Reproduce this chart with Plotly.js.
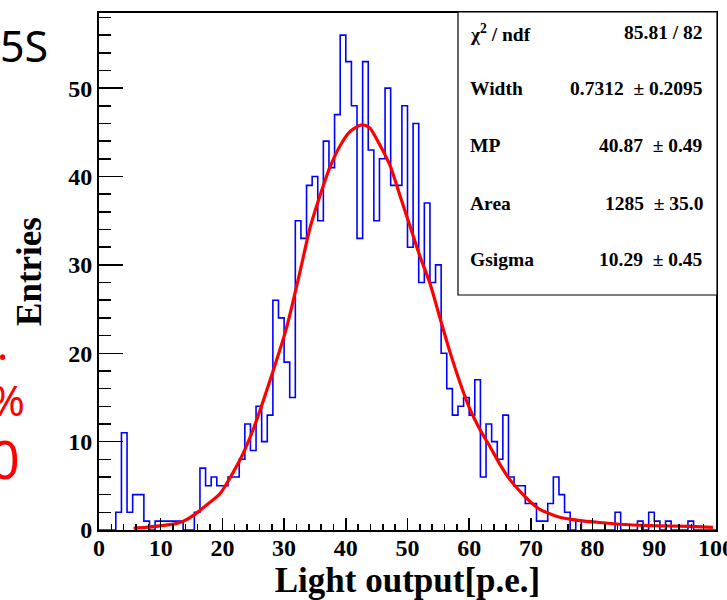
<!DOCTYPE html>
<html>
<head>
<meta charset="utf-8">
<script src="https://cdn.plot.ly/plotly-3.0.1.min.js"></script>
<style>
html,body{margin:0;padding:0;background:#ffffff;}
#chart{width:727px;height:600px;}
</style>
</head>
<body>
<div id="chart"></div>
<script>
// ---------------- data ----------------
const xMin = 0;
const xMax = 100;
// 110 bins between 0 and 100 p.e.
const binCounts = [
  0, 0, 0, 2, 11, 2, 4, 4, 1, 0,
  1, 1, 1, 1, 1, 0, 0, 2, 7, 5,
  6, 5, 5, 6, 6, 8, 12, 9, 14, 10,
  13, 26, 24, 19, 15, 35, 33, 39, 40, 35,
  44, 41, 47, 56, 53, 48, 33, 53, 43, 35,
  42, 50, 39, 39, 48, 32, 46, 28, 37, 28,
  30, 20, 16, 13, 14, 15, 13, 17, 6, 12,
  10, 8, 13, 6, 5, 5, 3, 3, 1, 1,
  3, 6, 4, 2, 0, 1, 0, 0, 0, 0,
  0, 0, 2, 0, 0, 0, 1, 0, 2, 1,
  0, 1, 0, 0, 0, 1, 0, 0, 0, 0
];
// fitted Landau(x)Gauss curve
const fitX = [5.6, 7.5, 10.2, 12.6, 13.7, 15.6, 17.2, 19.6, 22.9, 25.0,
              27.7, 30.4, 32.6, 34.2, 35.8, 37.4, 39.1, 40.7, 42.3, 43.1,
              43.9, 45.5, 47.2, 48.8, 50.4, 52.0, 53.6, 55.3, 56.9, 58.5,
              60.1, 61.8, 63.4, 65.0, 66.6, 68.2, 69.9, 71.5, 74.7, 78.0,
              81.2, 84.4, 89.3, 95.8, 99.5];
const fitY = [0.2, 0.3, 0.5, 0.75, 1.0, 1.8, 2.7, 4.1, 8.0, 11.4,
              16.9, 22.9, 29.3, 34.2, 37.8, 41.0, 43.5, 45.1, 45.8, 45.8,
              45.5, 43.6, 41.2, 37.8, 34.4, 31.0, 28.0, 23.9, 20.1, 16.7,
              13.7, 11.3, 9.4, 7.4, 5.7, 4.4, 3.2, 2.3, 1.45, 1.07,
              0.85, 0.65, 0.5, 0.4, 0.3];
const xTickVals = [0, 10, 20, 30, 40, 50, 60, 70, 80, 90, 100];
const yTickVals = [0, 10, 20, 30, 40, 50];
const statLabels = ["\u03c7<sup>2</sup> / ndf", "Width", "MP", "Area", "Gsigma"];
const statValues = ["85.81 / 82", "0.7312 \u00a0\u00b1 0.2095", "40.87 \u00a0\u00b1 0.49",
                    "1285 \u00a0\u00b1 35.0", "10.29 \u00a0\u00b1 0.45"];
const xTitle = "Light output[p.e.]";
const yTitle = "Entries";
const slideBlackText = ["5S"];
const slideRedText = [".", "%", "0"];

// ---------------- build traces ----------------
const nBins = binCounts.length;
const binW = (xMax - xMin) / nBins;
const stepX = [];
const stepY = [];
for (let i = 0; i < nBins; i++) { stepX.push(xMin + i * binW); stepY.push(binCounts[i]); }
stepX.push(xMax); stepY.push(binCounts[nBins - 1]);

const histTrace = {
  type: 'scatter', mode: 'lines', x: stepX, y: stepY,
  line: {shape: 'hv', color: '#0000ff', width: 1.6},
  hoverinfo: 'skip'
};
const fitTrace = {
  type: 'scatter', mode: 'lines', x: fitX, y: fitY,
  line: {shape: 'spline', smoothing: 0.6, color: '#ff0000', width: 3.2},
  hoverinfo: 'skip'
};

// ---------------- layout ----------------
const serif = 'Liberation Serif, Times New Roman, serif';
const sans = 'Noto Sans, Liberation Sans, sans-serif';
const W = 727, H = 600;
const mL = 99, mR = 11, mT = 13, mB = 70;
const pw = W - mL - mR, ph = H - mT - mB;
const px2x = p => (p - mL) / pw;       // pixel -> paper x
const py2y = p => (H - mB - p) / ph;   // pixel -> paper y

const annotations = [];
const rowPy = [33, 89, 146, 203, 259];
statLabels.forEach((t, i) => {
  annotations.push({xref: 'paper', yref: 'paper', x: px2x(468), y: py2y(rowPy[i]),
    xanchor: 'left', yanchor: 'middle', text: t, showarrow: false,
    font: {family: serif, size: 19.5, color: '#000', weight: 'bold'}});
  annotations.push({xref: 'paper', yref: 'paper', x: px2x(705), y: py2y(rowPy[i]),
    xanchor: 'right', yanchor: 'middle', text: statValues[i], showarrow: false,
    font: {family: serif, size: 19.5, color: '#000', weight: 'bold'}});
});
annotations.push({xref: 'paper', yref: 'paper', x: px2x(50), y: py2y(46),
  xanchor: 'right', yanchor: 'middle', text: slideBlackText[0], showarrow: false,
  font: {family: sans, size: 43, color: '#000'}});
const redPy = [343, 400, 458];
const redPx = [10, 27, 22];
const redSize = [42, 42, 52];
slideRedText.forEach((t, i) => {
  annotations.push({xref: 'paper', yref: 'paper', x: px2x(redPx[i]), y: py2y(redPy[i]),
    xanchor: 'right', yanchor: 'middle', text: t, showarrow: false,
    font: {family: sans, size: redSize[i], color: '#ff0000'}});
});

const layout = {
  width: W, height: H,
  margin: {l: mL, r: mR, t: mT, b: mB, pad: 0},
  paper_bgcolor: '#ffffff', plot_bgcolor: '#ffffff',
  showlegend: false,
  font: {family: serif, color: '#000'},
  xaxis: {
    range: [xMin, xMax], tickmode: 'array', tickvals: xTickVals,
    ticks: 'inside', ticklen: 12, tickwidth: 1.5, tickcolor: '#000',
    showline: true, linewidth: 2, linecolor: '#000', mirror: true,
    showgrid: false, zeroline: false, automargin: false, fixedrange: true,
    ticklabeloverflow: 'allow', ticklabelstandoff: -5,
    tickfont: {family: serif, size: 24, color: '#000', weight: 'bold'},
    minor: {dtick: 2, ticks: 'inside', ticklen: 6, tickwidth: 1.5, tickcolor: '#000', showgrid: false},
    title: {text: xTitle, standoff: 10, font: {family: serif, size: 35, color: '#000', weight: 'bold'}}
  },
  yaxis: {
    range: [0, 58.5], tickmode: 'array', tickvals: yTickVals,
    ticks: 'inside', ticklen: 24, tickwidth: 1.5, tickcolor: '#000',
    showline: true, linewidth: 2, linecolor: '#000', mirror: true,
    showgrid: false, zeroline: false, automargin: false, fixedrange: true,
    tickfont: {family: serif, size: 24, color: '#000', weight: 'bold'},
    minor: {dtick: 2, ticks: 'inside', ticklen: 12, tickwidth: 1.5, tickcolor: '#000', showgrid: false},
    title: {text: yTitle, standoff: 16, font: {family: serif, size: 35, color: '#000', weight: 'bold'}}
  },
  shapes: [{
    type: 'rect', xref: 'paper', yref: 'paper', layer: 'above',
    x0: px2x(458), x1: px2x(717), y0: py2y(295), y1: py2y(12),
    line: {color: '#000', width: 1.2}, fillcolor: '#ffffff'
  }],
  annotations: annotations
};

Plotly.newPlot('chart', [histTrace, fitTrace], layout, {staticPlot: true, displayModeBar: false});
</script>
</body>
</html>
